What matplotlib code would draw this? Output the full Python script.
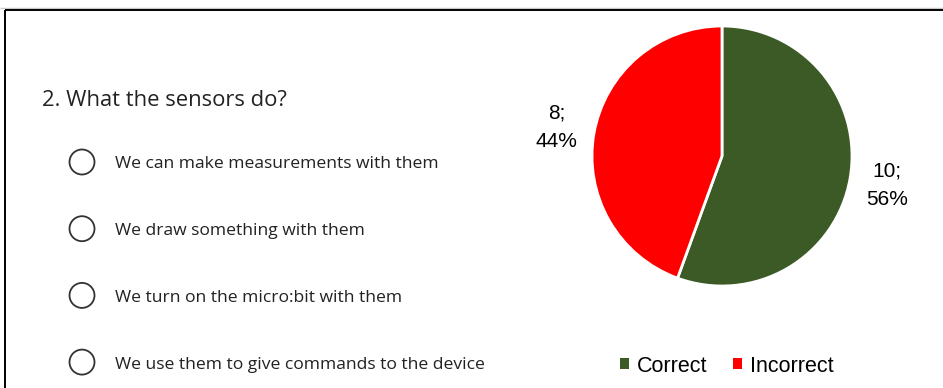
import matplotlib
matplotlib.use("Agg")
import matplotlib.pyplot as plt
from matplotlib.patches import Circle

# question and answer options shown on the left
question = "2. What the sensors do?"
options = [
    "We can make measurements with them",
    "We draw something with them",
    "We turn on the micro:bit with them",
    "We use them to give commands to the device",
]

# pie data
categories = ["Correct", "Incorrect"]
counts = [10, 8]
colors = ["#3b5a25", "#ff0000"]

W, H = 943, 388
fig = plt.figure(figsize=(W / 100, H / 100), dpi=100)

# background axes in pixel coordinates (origin top-left)
bg = fig.add_axes([0, 0, 1, 1])
bg.set_xlim(0, W)
bg.set_ylim(H, 0)
bg.axis("off")

# frame around the slide area
bg.plot([0, W], [8, 8], color="#c8c8c8", lw=1.0, solid_capstyle="butt")
bg.plot([5, W], [10, 10], color="black", lw=1.4, solid_capstyle="butt")
bg.plot([5, 5], [10, H], color="black", lw=1.4, solid_capstyle="butt")

bg.text(42, 100, question, fontsize=15.8, family="Open Sans",
        color="#222222", va="center", ha="left")

for i, opt in enumerate(options):
    yc = 162 + i * 66.7
    bg.add_patch(Circle((82, yc), 12.5, fill=False, ec="#333333", lw=1.3))
    bg.text(115, yc + 2.5, opt, fontsize=12.6, family="Open Sans",
            color="#222222", va="center", ha="left")

# pie chart
ax = fig.add_axes([592 / W, (H - 286) / H, 260 / W, 260 / H])
total = sum(counts)
lbls = ["%d;\n%d%%" % (c, round(100 * c / total)) for c in counts]
wedges, texts = ax.pie(counts, colors=colors, startangle=90, counterclock=False,
                       labels=lbls, labeldistance=1.29,
                       wedgeprops=dict(edgecolor="white", linewidth=2.0),
                       textprops=dict(fontsize=15, family="Liberation Sans",
                                      color="black", linespacing=1.65))
for t in texts:
    t.set_horizontalalignment("center")
    t.set_verticalalignment("center")
ax.set_aspect("equal")
ax.set_xlim(-1, 1)
ax.set_ylim(-1, 1)

leg = fig.legend(wedges, categories, loc="center", ncol=2,
                 bbox_to_anchor=(727 / W, (H - 366) / H), frameon=False,
                 prop=dict(family="Liberation Sans", size=15.5),
                 handlelength=0.42, handleheight=0.42, handletextpad=0.35,
                 columnspacing=1.2, borderpad=0)
for h in leg.legend_handles:
    h.set_edgecolor("none")

fig.savefig("out.png", dpi=100)
